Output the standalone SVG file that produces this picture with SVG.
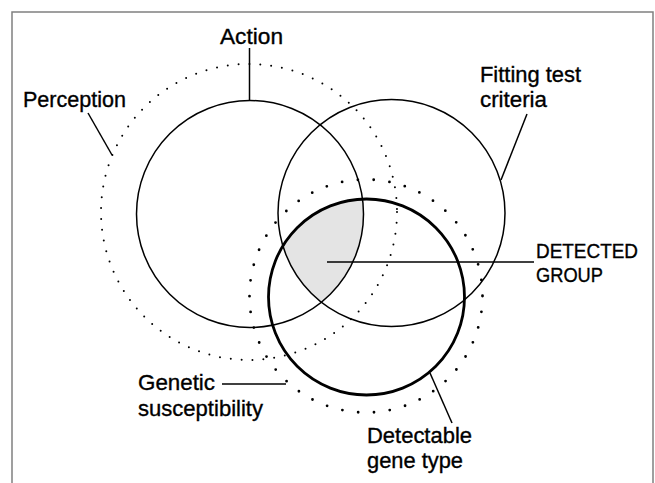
<svg xmlns="http://www.w3.org/2000/svg" width="655" height="483" viewBox="0 0 655 483">
<style>
.frame{fill:none;stroke:#808080;stroke-width:1.5}
.solid{fill:none;stroke:#000;stroke-width:1.5}
.thick{fill:none;stroke:#000;stroke-width:2.8}
.dot1{fill:none;stroke:#000;stroke-width:2;stroke-linecap:round;stroke-dasharray:0 10.9}
.dot2{fill:none;stroke:#000;stroke-width:2.8;stroke-linecap:round;stroke-dasharray:0 15.9}
.lead{fill:none;stroke:#000;stroke-width:1.5}
text{font-family:"Liberation Sans",Arial,sans-serif;font-size:22px;fill:#000;stroke:#000;stroke-width:0.35}
.caps{font-size:20.5px}
</style>
<rect x="0" y="0" width="655" height="483" fill="#fff"/>
<path class="frame" d="M12,483 V12 H653 V483"/>
<g id="shade">
<path d="M362,199 A113.5,113.5 0 0 1 320.5,302 A113.5,113.5 0 0 1 282.7,245.4 A98,98 0 0 1 362,199 Z" fill="#e4e4e4"/>
</g>
<g id="perception">
<circle class="dot1" cx="249" cy="212" r="148"/>
<text x="23" y="107" textLength="103" lengthAdjust="spacingAndGlyphs">Perception</text>
</g>
<g id="genetic">
<circle class="dot2" cx="366" cy="296" r="116.5"/>
<text x="138" y="390" textLength="77" lengthAdjust="spacingAndGlyphs">Genetic</text>
<text x="138" y="416" textLength="125" lengthAdjust="spacingAndGlyphs">susceptibility</text>
</g>
<g id="action">
<circle class="solid" cx="250" cy="214" r="113.5"/>
<text x="220" y="44" textLength="63" lengthAdjust="spacingAndGlyphs">Action</text>
</g>
<g id="fitting">
<circle class="solid" cx="391.5" cy="213" r="113.5"/>
<text x="480" y="82" textLength="101" lengthAdjust="spacingAndGlyphs">Fitting test</text>
<text x="480" y="107" textLength="67" lengthAdjust="spacingAndGlyphs">criteria</text>
</g>
<g id="detectable">
<circle class="thick" cx="366.5" cy="297" r="98"/>
<text x="367" y="443" textLength="105" lengthAdjust="spacingAndGlyphs">Detectable</text>
<text x="367" y="468" textLength="96" lengthAdjust="spacingAndGlyphs">gene type</text>
</g>
<g id="detected-group">
<text class="caps" x="536" y="258" textLength="102" lengthAdjust="spacingAndGlyphs">DETECTED</text>
<text class="caps" x="536" y="282" textLength="67" lengthAdjust="spacingAndGlyphs">GROUP</text>
</g>
<g id="connectors">
<line class="lead" x1="249.5" y1="48" x2="249.5" y2="100"/>
<line class="lead" x1="88" y1="113" x2="112" y2="155"/>
<line class="lead" x1="527" y1="114" x2="501" y2="180"/>
<line class="lead" x1="327" y1="262" x2="534" y2="262"/>
<line class="lead" x1="222" y1="384" x2="286" y2="384"/>
<line class="lead" x1="430" y1="373" x2="452" y2="423"/>
</g>
</svg>
